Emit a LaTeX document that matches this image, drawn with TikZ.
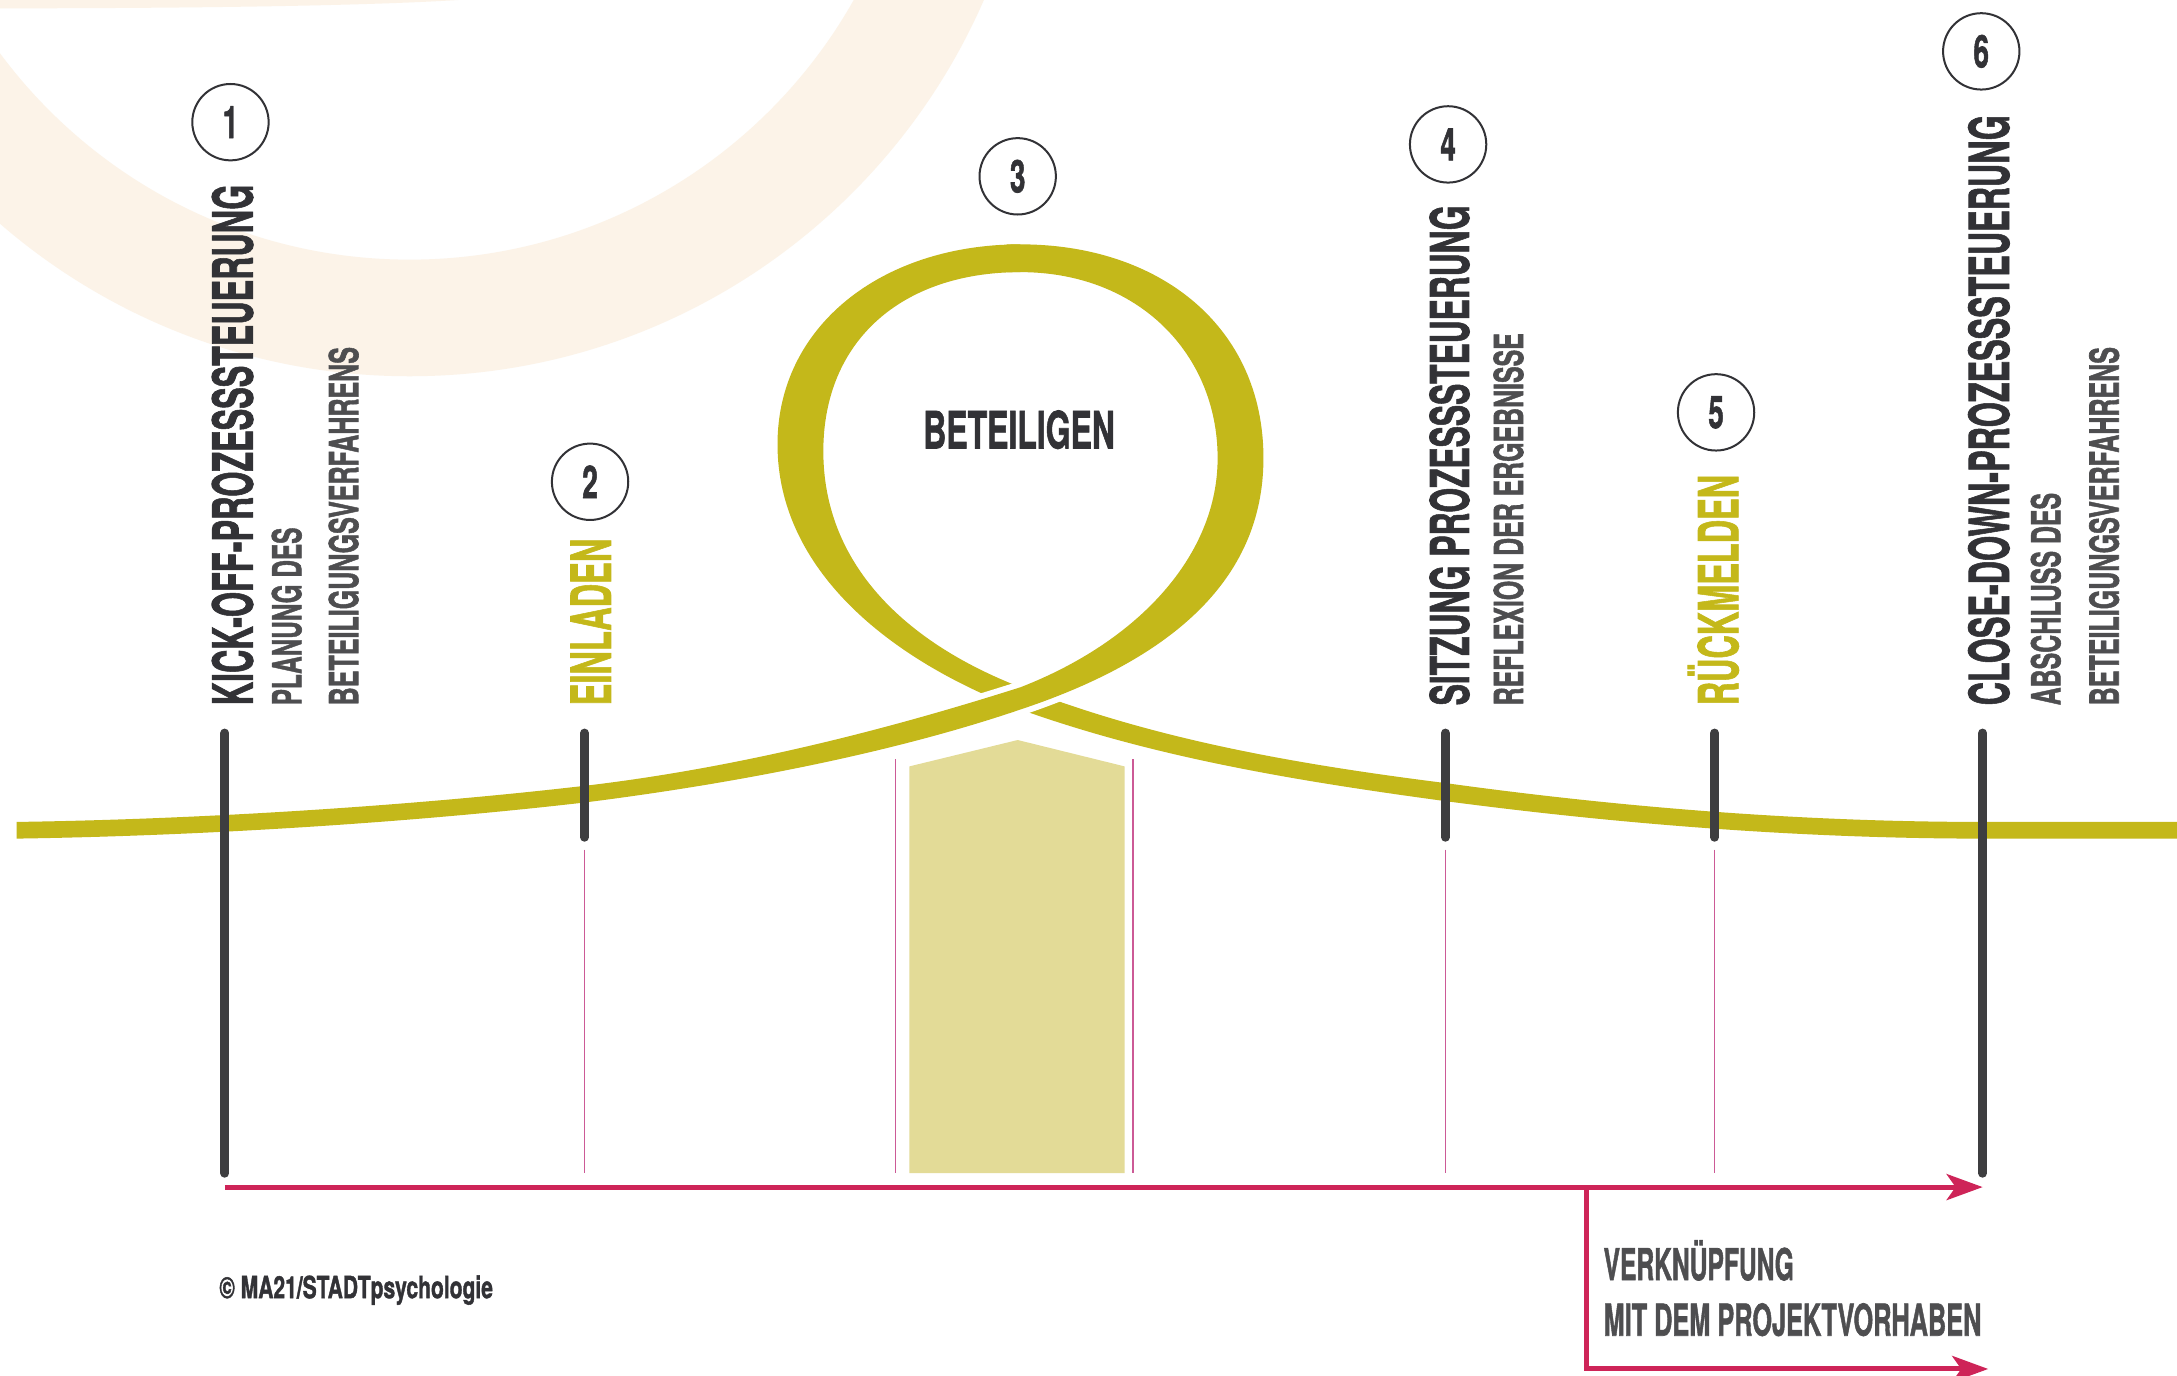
\documentclass[tikz,border=0pt]{standalone}
\usepackage{graphicx}
\usepackage{fontspec}
\setmainfont{TeX Gyre Heros}[BoldFeatures={FakeBold=1.6}]
\usetikzlibrary{arrows.meta}
\definecolor{cGreen}{RGB}{196,184,26}
\definecolor{cHouse}{RGB}{227,219,151}
\definecolor{cPink}{RGB}{204,90,150}
\definecolor{cRed}{RGB}{206,36,88}
\definecolor{cBeige}{RGB}{252,243,232}
\definecolor{cDark}{RGB}{50,50,54}
\definecolor{cSub}{RGB}{78,78,80}
\definecolor{cMark}{RGB}{62,62,64}
\newlength\uu \setlength\uu{1.38839pt}
\newcommand\fit[3]{\resizebox{#1\uu}{#2\uu}{\bfseries\smash{#3}\vphantom{H}}}
\newcommand\digit[1]{\scalebox{0.62}[1]{#1}}
\begin{document}
\begin{tikzpicture}[x=1.38839pt, y=-1.38839pt,
  vtext/.style={rotate=90, anchor=base west, inner sep=0pt, outer sep=0pt},
  htext/.style={anchor=base west, inner sep=0pt, outer sep=0pt},
  numc/.style={circle, draw=cDark, line width=2pt, minimum size=55\uu, inner sep=0pt, text=cDark, font=\fontsize{45}{45}\selectfont\bfseries},
  markline/.style={draw=cMark, line width=9pt, line cap=round},
  thinpink/.style={draw=cPink, line width=1.6pt},
  redarrow/.style={draw=cRed, line width=5pt, -{Stealth[length=36pt,width=26pt,inset=9pt]}}]
\useasboundingbox (0,0) rectangle (1568,991);
\clip (0,0) rectangle (1568,991);
\fill[white] (0,0) rectangle (1568,991);
% background ring
\fill[cBeige, even odd rule] (295,-180) circle (451) (295,-180) circle (367);
\fill[cBeige] (0,0) -- (330,0) .. controls (250,5) and (100,6) .. (0,6) -- cycle;
% thin pink lines
\draw[thinpink] (421,612) -- (421,845);
\draw[thinpink] (1041,612) -- (1041,845);
\draw[thinpink] (1235,612) -- (1235,845);
\draw[thinpink] (645,547) -- (645,845);
\draw[thinpink] (816,547) -- (816,845);
% house
\fill[cHouse] (655,845) -- (655,552) -- (733,533) -- (810,552) -- (810,845) -- cycle;
% under strand
\fill[cGreen] (735,176) .. controls (635,176) and (560,235) .. (560,320)
  .. controls (560,410) and (640,475) .. (735,511)
  .. controls (830,545) and (930,562) .. (1041,577)
  .. controls (1200,598) and (1330,604) .. (1428,604)
  -- (1575,604) -- (1575,592) -- (1428,592)
  .. controls (1330,592) and (1200,586) .. (1041,564)
  .. controls (930,550) and (830,532) .. (735,495)
  .. controls (650,462) and (593,405) .. (593,325)
  .. controls (593,245) and (650,196) .. (735,196) -- cycle;
% gap at crossing
\begin{scope}
\clip (735,503) circle (45);
\draw[white, line width=12pt, line join=round] (12,604) .. controls (150,602) and (300,592) .. (421,578)
  .. controls (540,563) and (650,540) .. (735,511)
  .. controls (840,476) and (910,420) .. (910,330)
  .. controls (910,235) and (835,176) .. (735,176)
  -- (725,176) -- (725,196) -- (735,196)
  .. controls (820,196) and (877,255) .. (877,330)
  .. controls (877,400) and (820,462) .. (735,495)
  .. controls (650,522) and (540,552) .. (421,566)
  .. controls (300,580) and (150,590) .. (12,592) -- cycle;
\end{scope}
% over strand
\fill[cGreen] (12,604) .. controls (150,602) and (300,592) .. (421,578)
  .. controls (540,563) and (650,540) .. (735,511)
  .. controls (840,476) and (910,420) .. (910,330)
  .. controls (910,235) and (835,176) .. (735,176)
  -- (725,176) -- (725,196) -- (735,196)
  .. controls (820,196) and (877,255) .. (877,330)
  .. controls (877,400) and (820,462) .. (735,495)
  .. controls (650,522) and (540,552) .. (421,566)
  .. controls (300,580) and (150,590) .. (12,592) -- cycle;
% marker lines
\draw[markline] (162,528) -- (162,845);
\draw[markline] (421,528) -- (421,603);
\draw[markline] (1041,528) -- (1041,603);
\draw[markline] (1235,528) -- (1235,603);
\draw[markline] (1428,528) -- (1428,845);
% arrows
\coordinate (a0) at (162,855);
\coordinate (a1) at (1428,855);
\coordinate (b0) at (1143,855);
\coordinate (b1) at (1432,986);
\draw[redarrow] (a0) -- (a1);
\draw[redarrow] (b0) |- (b1);
% number circles
\node[numc] (n1) at (166,88) {\digit{1}};
\node[numc] (n2) at (425,347) {\digit{2}};
\node[numc] (n3) at (733,127) {\digit{3}};
\node[numc] (n4) at (1043,104) {\digit{4}};
\node[numc] (n5) at (1236,297) {\digit{5}};
\node[numc] (n6) at (1427,37) {\digit{6}};
% texts
\node[vtext, text=cDark] (t1) at (182,508) {\fit{375}{29}{KICK-OFF-PROZESSSTEUERUNG}};
\node[vtext, text=cSub] (t1a) at (217,508) {\fit{128}{21}{PLANUNG DES}};
\node[vtext, text=cSub] (t1b) at (258,508) {\fit{258}{21}{BETEILIGUNGSVERFAHRENS}};
\node[vtext, text=cGreen] (t2) at (440,508) {\fit{120}{29}{EINLADEN}};
\node[htext, text=cDark] (t3) at (665,323) {\fit{138}{27}{BETEILIGEN}};
\node[vtext, text=cDark] (t4) at (1058,508) {\fit{360}{28}{SITZUNG PROZESSSTEUERUNG}};
\node[vtext, text=cSub] (t4a) at (1097,508) {\fit{268}{21}{REFLEXION DER ERGEBNISSE}};
\node[vtext, text=cGreen] (t5) at (1252,508) {\fit{166}{29}{RÜCKMELDEN}};
\node[vtext, text=cDark] (t6) at (1447,508) {\fit{425}{29}{CLOSE-DOWN-PROZESSSTEUERUNG}};
\node[vtext, text=cSub] (t6a) at (1484,508) {\fit{153}{21}{ABSCHLUSS DES}};
\node[vtext, text=cSub] (t6b) at (1526,508) {\fit{258}{21}{BETEILIGUNGSVERFAHRENS}};
\node[htext, text=cSub] (v1) at (1155,922) {\fit{137}{23}{VERKNÜPFUNG}};
\node[htext, text=cSub] (v2) at (1155,962) {\fit{272}{23}{MIT DEM PROJEKTVORHABEN}};
\node[htext, text=cDark] (cr) at (158,935) {\fit{197}{16}{© MA21/STADTpsychologie}};
\end{tikzpicture}
\end{document}
